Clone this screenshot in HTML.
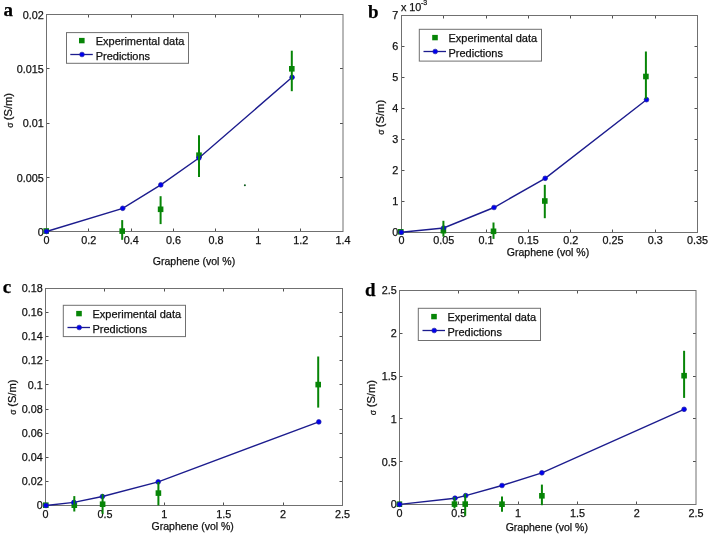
<!DOCTYPE html>
<html><head><meta charset="utf-8"><style>
html,body{margin:0;padding:0;background:#fff;width:708px;height:535px;overflow:hidden}
svg text{font-family:"Liberation Sans",sans-serif;fill:#111;stroke:#111;stroke-width:0.25px}
.t{font-size:10.8px}
.x{font-size:10.5px}
.l{font-size:11px}
.s{font-size:7px}
.y{font-size:11.2px}
.sg{font-size:8.5px}
.p{font-family:"Liberation Serif",serif !important;font-weight:bold;font-size:19px;fill:#000}
</style></head><body>
<svg width="708" height="535" viewBox="0 0 708 535" style="position:absolute;left:0;top:0;filter:blur(0.35px)">
<g><path d="M88.5 231.5v-3.0M88.5 14.5v3.0M131.5 231.5v-3.0M131.5 14.5v3.0M173.5 231.5v-3.0M173.5 14.5v3.0M215.5 231.5v-3.0M215.5 14.5v3.0M258.5 231.5v-3.0M258.5 14.5v3.0M300.5 231.5v-3.0M300.5 14.5v3.0M46.5 177.5h3.0M343 177.5h-3.0M46.5 123.5h3.0M343 123.5h-3.0M46.5 68.5h3.0M343 68.5h-3.0" stroke="#505050" stroke-width="1" fill="none"/>
<rect x="46.5" y="14.5" width="296.5" height="217" stroke="#707070" stroke-width="1" fill="none"/>
<text x="46.5" y="243.9" text-anchor="middle" class="t">0</text>
<text x="88.86" y="243.9" text-anchor="middle" class="t">0.2</text>
<text x="131.21" y="243.9" text-anchor="middle" class="t">0.4</text>
<text x="173.57" y="243.9" text-anchor="middle" class="t">0.6</text>
<text x="215.93" y="243.9" text-anchor="middle" class="t">0.8</text>
<text x="258.29" y="243.9" text-anchor="middle" class="t">1</text>
<text x="300.64" y="243.9" text-anchor="middle" class="t">1.2</text>
<text x="343" y="243.9" text-anchor="middle" class="t">1.4</text>
<text x="43.7" y="235.8" text-anchor="end" class="t">0</text>
<text x="43.7" y="181.55" text-anchor="end" class="t">0.005</text>
<text x="43.7" y="127.3" text-anchor="end" class="t">0.01</text>
<text x="43.7" y="73.05" text-anchor="end" class="t">0.015</text>
<text x="43.7" y="18.8" text-anchor="end" class="t">0.02</text>
<rect x="43.4" y="228.2" width="5.6" height="5.6" fill="#078507"/>
<rect x="119.4" y="228.3" width="5.6" height="5.6" fill="#078507"/>
<rect x="157.8" y="206.5" width="5.6" height="5.6" fill="#078507"/>
<rect x="196.2" y="152.4" width="5.6" height="5.6" fill="#078507"/>
<rect x="289" y="66" width="5.6" height="5.6" fill="#078507"/>
<circle cx="244.9" cy="185.3" r="1" fill="#0b5a1a"/>
<polyline points="46.5,231.5 122.7,208.3 160.8,184.9 198.9,158 292.1,77.3" stroke="#1c1c8e" stroke-width="1.4" fill="none"/>
<circle cx="46.5" cy="231.5" r="2.35" fill="#0000f0" stroke="#2222a0" stroke-width="0.7"/>
<circle cx="122.7" cy="208.3" r="2.35" fill="#0000f0" stroke="#2222a0" stroke-width="0.7"/>
<circle cx="160.8" cy="184.9" r="2.35" fill="#0000f0" stroke="#2222a0" stroke-width="0.7"/>
<circle cx="198.9" cy="158" r="2.35" fill="#0000f0" stroke="#2222a0" stroke-width="0.7"/>
<circle cx="292.1" cy="77.3" r="2.35" fill="#0000f0" stroke="#2222a0" stroke-width="0.7"/>
<line x1="122.2" y1="220.1" x2="122.2" y2="239.8" stroke="#078507" stroke-width="2"/>
<line x1="160.6" y1="196.2" x2="160.6" y2="224.1" stroke="#078507" stroke-width="2"/>
<line x1="199" y1="135.2" x2="199" y2="176.9" stroke="#078507" stroke-width="2"/>
<line x1="291.8" y1="50.7" x2="291.8" y2="91.2" stroke="#078507" stroke-width="2"/>
<rect x="66.5" y="32.6" width="122" height="30.7" stroke="#707070" stroke-width="1" fill="#fff"/>
<rect x="79" y="37.9" width="5.6" height="5.4" fill="#078507"/>
<text x="95.7" y="44.9" class="l">Experimental data</text>
<line x1="70.3" y1="54.5" x2="92.8" y2="54.5" stroke="#1c1c8e" stroke-width="1.3"/>
<circle cx="82" cy="54.5" r="2.35" fill="#0000f0" stroke="#2222a0" stroke-width="0.7"/>
<text x="95.7" y="60.2" class="l">Predictions</text>
<text x="3.6" y="16" class="p">a</text>
<text x="194" y="264.5" text-anchor="middle" class="x">Graphene (vol %)</text>
<text transform="translate(12.45 106.6) rotate(-90)" text-anchor="middle" class="y">(S/m)</text>
<text transform="translate(12.95 125.2) rotate(-90)" text-anchor="middle" class="sg">σ</text></g>
<g><path d="M443.5 232.5v-3.0M443.5 15.5v3.0M486.5 232.5v-3.0M486.5 15.5v3.0M528.5 232.5v-3.0M528.5 15.5v3.0M570.5 232.5v-3.0M570.5 15.5v3.0M612.5 232.5v-3.0M612.5 15.5v3.0M655.5 232.5v-3.0M655.5 15.5v3.0M401.5 201.5h3.0M697.5 201.5h-3.0M401.5 170.5h3.0M697.5 170.5h-3.0M401.5 139.5h3.0M697.5 139.5h-3.0M401.5 108.5h3.0M697.5 108.5h-3.0M401.5 77.5h3.0M697.5 77.5h-3.0M401.5 46.5h3.0M697.5 46.5h-3.0" stroke="#505050" stroke-width="1" fill="none"/>
<rect x="401.5" y="15.5" width="296" height="217" stroke="#707070" stroke-width="1" fill="none"/>
<text x="401.5" y="244.2" text-anchor="middle" class="t">0</text>
<text x="443.79" y="244.2" text-anchor="middle" class="t">0.05</text>
<text x="486.07" y="244.2" text-anchor="middle" class="t">0.1</text>
<text x="528.36" y="244.2" text-anchor="middle" class="t">0.15</text>
<text x="570.64" y="244.2" text-anchor="middle" class="t">0.2</text>
<text x="612.93" y="244.2" text-anchor="middle" class="t">0.25</text>
<text x="655.21" y="244.2" text-anchor="middle" class="t">0.3</text>
<text x="697.5" y="244.2" text-anchor="middle" class="t">0.35</text>
<text x="398.2" y="235.8" text-anchor="end" class="t">0</text>
<text x="398.2" y="204.8" text-anchor="end" class="t">1</text>
<text x="398.2" y="173.8" text-anchor="end" class="t">2</text>
<text x="398.2" y="142.8" text-anchor="end" class="t">3</text>
<text x="398.2" y="111.8" text-anchor="end" class="t">4</text>
<text x="398.2" y="80.8" text-anchor="end" class="t">5</text>
<text x="398.2" y="49.8" text-anchor="end" class="t">6</text>
<text x="398.2" y="18.8" text-anchor="end" class="t">7</text>
<rect x="398" y="229" width="5.6" height="5.6" fill="#078507"/>
<rect x="440.6" y="227.9" width="5.6" height="5.6" fill="#078507"/>
<rect x="490.7" y="228.5" width="5.6" height="5.6" fill="#078507"/>
<rect x="542" y="198.2" width="5.6" height="5.6" fill="#078507"/>
<rect x="643.1" y="73.7" width="5.6" height="5.6" fill="#078507"/>
<polyline points="401.3,232.3 443.6,228 494,207.5 545.2,178.3 646.5,99.7" stroke="#1c1c8e" stroke-width="1.4" fill="none"/>
<circle cx="401.3" cy="232.3" r="2.35" fill="#0000f0" stroke="#2222a0" stroke-width="0.7"/>
<circle cx="443.6" cy="228" r="2.35" fill="#0000f0" stroke="#2222a0" stroke-width="0.7"/>
<circle cx="494" cy="207.5" r="2.35" fill="#0000f0" stroke="#2222a0" stroke-width="0.7"/>
<circle cx="545.2" cy="178.3" r="2.35" fill="#0000f0" stroke="#2222a0" stroke-width="0.7"/>
<circle cx="646.5" cy="99.7" r="2.35" fill="#0000f0" stroke="#2222a0" stroke-width="0.7"/>
<line x1="443.4" y1="220.8" x2="443.4" y2="236.6" stroke="#078507" stroke-width="2"/>
<line x1="493.5" y1="222.5" x2="493.5" y2="238.9" stroke="#078507" stroke-width="2"/>
<line x1="544.8" y1="184.8" x2="544.8" y2="218.2" stroke="#078507" stroke-width="2"/>
<line x1="645.9" y1="51.5" x2="645.9" y2="98.8" stroke="#078507" stroke-width="2"/>
<rect x="419.3" y="29.3" width="122.2" height="31.8" stroke="#707070" stroke-width="1" fill="#fff"/>
<rect x="432.2" y="34.9" width="5.6" height="5.4" fill="#078507"/>
<text x="448.5" y="41.6" class="l">Experimental data</text>
<line x1="423.5" y1="51.5" x2="446" y2="51.5" stroke="#1c1c8e" stroke-width="1.3"/>
<circle cx="435.2" cy="51.5" r="2.35" fill="#0000f0" stroke="#2222a0" stroke-width="0.7"/>
<text x="448.5" y="56.9" class="l">Predictions</text>
<text x="368" y="17.5" class="p">b</text>
<text x="548" y="255.7" text-anchor="middle" class="x">Graphene (vol %)</text>
<text transform="translate(383.85 113.5) rotate(-90)" text-anchor="middle" class="y">(S/m)</text>
<text transform="translate(384.35 132.1) rotate(-90)" text-anchor="middle" class="sg">σ</text>
<text x="400.9" y="11.4" class="t">x 10</text><text x="421" y="4.7" class="s">-3</text></g>
<g><path d="M104.5 505.5v-3.0M104.5 288.5v3.0M164.5 505.5v-3.0M164.5 288.5v3.0M223.5 505.5v-3.0M223.5 288.5v3.0M283.5 505.5v-3.0M283.5 288.5v3.0M45.5 481.5h3.0M342.5 481.5h-3.0M45.5 457.5h3.0M342.5 457.5h-3.0M45.5 433.5h3.0M342.5 433.5h-3.0M45.5 409.5h3.0M342.5 409.5h-3.0M45.5 384.5h3.0M342.5 384.5h-3.0M45.5 360.5h3.0M342.5 360.5h-3.0M45.5 336.5h3.0M342.5 336.5h-3.0M45.5 312.5h3.0M342.5 312.5h-3.0" stroke="#505050" stroke-width="1" fill="none"/>
<rect x="45.5" y="288.5" width="297" height="217" stroke="#707070" stroke-width="1" fill="none"/>
<text x="45.5" y="517.9" text-anchor="middle" class="t">0</text>
<text x="104.9" y="517.9" text-anchor="middle" class="t">0.5</text>
<text x="164.3" y="517.9" text-anchor="middle" class="t">1</text>
<text x="223.7" y="517.9" text-anchor="middle" class="t">1.5</text>
<text x="283.1" y="517.9" text-anchor="middle" class="t">2</text>
<text x="342.5" y="517.9" text-anchor="middle" class="t">2.5</text>
<text x="42.7" y="509.1" text-anchor="end" class="t">0</text>
<text x="42.7" y="484.99" text-anchor="end" class="t">0.02</text>
<text x="42.7" y="460.88" text-anchor="end" class="t">0.04</text>
<text x="42.7" y="436.77" text-anchor="end" class="t">0.06</text>
<text x="42.7" y="412.66" text-anchor="end" class="t">0.08</text>
<text x="42.7" y="388.54" text-anchor="end" class="t">0.1</text>
<text x="42.7" y="364.43" text-anchor="end" class="t">0.12</text>
<text x="42.7" y="340.32" text-anchor="end" class="t">0.14</text>
<text x="42.7" y="316.21" text-anchor="end" class="t">0.16</text>
<text x="42.7" y="292.1" text-anchor="end" class="t">0.18</text>
<rect x="43" y="502.4" width="5.6" height="5.6" fill="#078507"/>
<rect x="71.5" y="502.4" width="5.6" height="5.6" fill="#078507"/>
<rect x="99.8" y="501.4" width="5.6" height="5.6" fill="#078507"/>
<rect x="155.6" y="490.3" width="5.6" height="5.6" fill="#078507"/>
<rect x="315.4" y="381.8" width="5.6" height="5.6" fill="#078507"/>
<polyline points="46,505.5 73.8,502.4 102.4,496.5 158.2,481.9 318.8,421.9" stroke="#1c1c8e" stroke-width="1.4" fill="none"/>
<circle cx="46" cy="505.5" r="2.35" fill="#0000f0" stroke="#2222a0" stroke-width="0.7"/>
<circle cx="73.8" cy="502.4" r="2.35" fill="#0000f0" stroke="#2222a0" stroke-width="0.7"/>
<circle cx="102.4" cy="496.5" r="2.35" fill="#0000f0" stroke="#2222a0" stroke-width="0.7"/>
<circle cx="158.2" cy="481.9" r="2.35" fill="#0000f0" stroke="#2222a0" stroke-width="0.7"/>
<circle cx="318.8" cy="421.9" r="2.35" fill="#0000f0" stroke="#2222a0" stroke-width="0.7"/>
<line x1="74.3" y1="496.1" x2="74.3" y2="511.5" stroke="#078507" stroke-width="2"/>
<line x1="102.6" y1="494" x2="102.6" y2="513.9" stroke="#078507" stroke-width="2"/>
<line x1="158.4" y1="481.9" x2="158.4" y2="505.4" stroke="#078507" stroke-width="2"/>
<line x1="318.2" y1="356.5" x2="318.2" y2="407.6" stroke="#078507" stroke-width="2"/>
<rect x="63.3" y="305.3" width="122.2" height="31.3" stroke="#707070" stroke-width="1" fill="#fff"/>
<rect x="76.2" y="310.9" width="5.6" height="5.4" fill="#078507"/>
<text x="92.5" y="317.6" class="l">Experimental data</text>
<line x1="67.5" y1="327.5" x2="90" y2="327.5" stroke="#1c1c8e" stroke-width="1.3"/>
<circle cx="79.2" cy="327.5" r="2.35" fill="#0000f0" stroke="#2222a0" stroke-width="0.7"/>
<text x="92.5" y="332.9" class="l">Predictions</text>
<text x="2.8" y="292.8" class="p">c</text>
<text x="192.7" y="529.6" text-anchor="middle" class="x">Graphene (vol %)</text>
<text transform="translate(15.75 393.15) rotate(-90)" text-anchor="middle" class="y">(S/m)</text>
<text transform="translate(16.25 412.2) rotate(-90)" text-anchor="middle" class="sg">σ</text></g>
<g><path d="M458.5 504.5v-3.0M458.5 290.5v3.0M518.5 504.5v-3.0M518.5 290.5v3.0M577.5 504.5v-3.0M577.5 290.5v3.0M636.5 504.5v-3.0M636.5 290.5v3.0M399.5 461.5h3.0M696 461.5h-3.0M399.5 418.5h3.0M696 418.5h-3.0M399.5 376.5h3.0M696 376.5h-3.0M399.5 333.5h3.0M696 333.5h-3.0" stroke="#505050" stroke-width="1" fill="none"/>
<rect x="399.5" y="290.5" width="296.5" height="214" stroke="#707070" stroke-width="1" fill="none"/>
<text x="399.5" y="516.9" text-anchor="middle" class="t">0</text>
<text x="458.8" y="516.9" text-anchor="middle" class="t">0.5</text>
<text x="518.1" y="516.9" text-anchor="middle" class="t">1</text>
<text x="577.4" y="516.9" text-anchor="middle" class="t">1.5</text>
<text x="636.7" y="516.9" text-anchor="middle" class="t">2</text>
<text x="696" y="516.9" text-anchor="middle" class="t">2.5</text>
<text x="396.7" y="508.3" text-anchor="end" class="t">0</text>
<text x="396.7" y="465.5" text-anchor="end" class="t">0.5</text>
<text x="396.7" y="422.7" text-anchor="end" class="t">1</text>
<text x="396.7" y="379.9" text-anchor="end" class="t">1.5</text>
<text x="396.7" y="337.1" text-anchor="end" class="t">2</text>
<text x="396.7" y="294.3" text-anchor="end" class="t">2.5</text>
<rect x="396.6" y="501.4" width="5.6" height="5.6" fill="#078507"/>
<rect x="451.7" y="501.3" width="5.6" height="5.6" fill="#078507"/>
<rect x="462.4" y="501.3" width="5.6" height="5.6" fill="#078507"/>
<rect x="499.2" y="501.4" width="5.6" height="5.6" fill="#078507"/>
<rect x="539.1" y="493" width="5.6" height="5.6" fill="#078507"/>
<rect x="681.3" y="372.9" width="5.6" height="5.6" fill="#078507"/>
<polyline points="399.6,504.4 455,498.2 465.7,495.6 502,485.5 541.9,472.8 684.1,409.3" stroke="#1c1c8e" stroke-width="1.4" fill="none"/>
<circle cx="399.6" cy="504.4" r="2.35" fill="#0000f0" stroke="#2222a0" stroke-width="0.7"/>
<circle cx="455" cy="498.2" r="2.35" fill="#0000f0" stroke="#2222a0" stroke-width="0.7"/>
<circle cx="465.7" cy="495.6" r="2.35" fill="#0000f0" stroke="#2222a0" stroke-width="0.7"/>
<circle cx="502" cy="485.5" r="2.35" fill="#0000f0" stroke="#2222a0" stroke-width="0.7"/>
<circle cx="541.9" cy="472.8" r="2.35" fill="#0000f0" stroke="#2222a0" stroke-width="0.7"/>
<circle cx="684.1" cy="409.3" r="2.35" fill="#0000f0" stroke="#2222a0" stroke-width="0.7"/>
<line x1="454.5" y1="497.1" x2="454.5" y2="508.5" stroke="#078507" stroke-width="2"/>
<line x1="465.2" y1="493.8" x2="465.2" y2="515.7" stroke="#078507" stroke-width="2"/>
<line x1="502" y1="496.4" x2="502" y2="511.7" stroke="#078507" stroke-width="2"/>
<line x1="541.9" y1="484.6" x2="541.9" y2="505.2" stroke="#078507" stroke-width="2"/>
<line x1="684.1" y1="350.8" x2="684.1" y2="397.9" stroke="#078507" stroke-width="2"/>
<rect x="418.3" y="308.3" width="122.2" height="32.2" stroke="#707070" stroke-width="1" fill="#fff"/>
<rect x="431.2" y="313.9" width="5.6" height="5.4" fill="#078507"/>
<text x="447.5" y="320.6" class="l">Experimental data</text>
<line x1="422.5" y1="330.5" x2="445" y2="330.5" stroke="#1c1c8e" stroke-width="1.3"/>
<circle cx="434.2" cy="330.5" r="2.35" fill="#0000f0" stroke="#2222a0" stroke-width="0.7"/>
<text x="447.5" y="335.9" class="l">Predictions</text>
<text x="365" y="296.0" class="p">d</text>
<text x="546.8" y="531.2" text-anchor="middle" class="x">Graphene (vol %)</text>
<text transform="translate(375.35 393.65) rotate(-90)" text-anchor="middle" class="y">(S/m)</text>
<text transform="translate(375.85 412.5) rotate(-90)" text-anchor="middle" class="sg">σ</text></g>
</svg>
</body></html>
